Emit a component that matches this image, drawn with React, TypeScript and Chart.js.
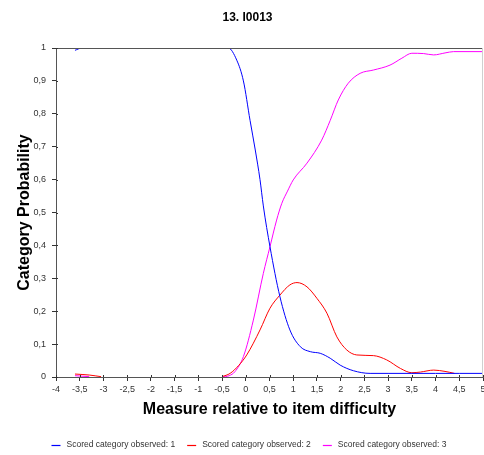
import React, { useEffect, useRef } from "react";
import { Chart, registerables } from "chart.js";

Chart.register(...registerables);

const chartTitle = "13. I0013";
const xTitle = "Measure relative to item difficulty";
const yTitle = "Category Probability";
const seriesNames = [
  "Scored category observed: 1",
  "Scored category observed: 2",
  "Scored category observed: 3",
];
const seriesColors = ["#0000ff", "#ff0000", "#ff00ff"];

const blueX = [-3.6, -3.45, -3.0, -0.5, -0.37, -0.19, -0.05, 0.09, 0.2, 0.3, 0.37, 0.51, 0.72, 0.93, 1.15, 1.36, 1.57, 1.78, 1.99, 2.27, 2.62, 3.0, 3.5, 4.0, 4.5, 5.0];
const blueY = [0.993, 1, 1, 1, 1, 0.963, 0.9, 0.78, 0.69, 0.6, 0.52, 0.396, 0.244, 0.143, 0.092, 0.077, 0.072, 0.057, 0.036, 0.019, 0.011, 0.011, 0.011, 0.011, 0.011, 0.011];

const redX = [-3.6, -3.3, -3.05, -0.5, -0.33, -0.15, 0.02, 0.3, 0.51, 0.72, 0.93, 1.08, 1.29, 1.5, 1.71, 1.92, 2.13, 2.34, 2.69, 2.97, 3.26, 3.5, 3.68, 3.96, 4.2, 4.4];
const redY = [0.009, 0.006, 0.001, 0.001, 0.011, 0.035, 0.067, 0.143, 0.209, 0.249, 0.28, 0.287, 0.274, 0.239, 0.194, 0.122, 0.082, 0.067, 0.065, 0.052, 0.026, 0.013, 0.015, 0.021, 0.017, 0.011];

const magentaX = [-3.6, -3.3, -0.5, -0.35, -0.23, -0.05, 0.16, 0.37, 0.51, 0.65, 0.76, 0.88, 1.0, 1.29, 1.6, 1.78, 1.95, 2.16, 2.41, 2.69, 3.04, 3.29, 3.5, 3.75, 3.96, 4.2, 4.38, 5.0];
const magentaY = [0.004, 0.001, 0.0, 0.004, 0.016, 0.062, 0.173, 0.315, 0.396, 0.477, 0.528, 0.565, 0.599, 0.65, 0.72, 0.78, 0.842, 0.893, 0.923, 0.933, 0.948, 0.969, 0.984, 0.983, 0.979, 0.985, 0.989, 0.989];

// gap between the two observed ranges (no curve drawn there)
const gapStart = -3.0;
const gapEnd = -0.5;

function toPoints(xs: number[], ys: number[]) {
  const pts: { x: number; y: number | null }[] = [];
  for (let i = 0; i < xs.length; i++) {
    pts.push({ x: xs[i], y: ys[i] });
    if (i + 1 < xs.length && xs[i] <= gapStart && xs[i + 1] >= gapEnd) {
      pts.push({ x: (xs[i] + xs[i + 1]) / 2, y: null });
    }
  }
  return pts;
}

const FONT = "'Liberation Sans', Arial, sans-serif";

const decorPlugin = {
  id: "decor",
  afterDatasetsDraw(chart: any) {
    const ctx = chart.ctx;
    const { left, right, top, bottom } = chart.chartArea;
    ctx.save();
    ctx.strokeStyle = "#555";
    ctx.lineWidth = 1;
    ctx.beginPath();
    ctx.moveTo(left, top + 0.5);
    ctx.lineTo(right, top + 0.5);
    ctx.stroke();
    ctx.strokeStyle = "#d0d0d0";
    ctx.beginPath();
    ctx.moveTo(right - 0.5, top);
    ctx.lineTo(right - 0.5, bottom);
    ctx.stroke();
    ctx.strokeStyle = "#333";
    const xs = chart.scales.x;
    const ys = chart.scales.y;
    ctx.beginPath();
    xs.ticks.forEach((t: any) => {
      const px = Math.round(xs.getPixelForValue(t.value)) + 0.5;
      ctx.moveTo(px, bottom);
      ctx.lineTo(px, bottom - 2);
    });
    ys.ticks.forEach((t: any) => {
      const py = Math.round(ys.getPixelForValue(t.value)) + 0.5;
      ctx.moveTo(left, py);
      ctx.lineTo(left + 2, py);
    });
    ctx.stroke();
    ctx.restore();
  },
  afterDraw(chart: any) {
    const ctx = chart.ctx;
    ctx.save();
    ctx.font = `8.5px ${FONT}`;
    ctx.textBaseline = "middle";
    const markerW = 9;
    const markerGap = 6;
    const itemGap = 12;
    const widths = seriesNames.map((n) => ctx.measureText(n).width);
    const total =
      widths.reduce((a, b) => a + b, 0) +
      seriesNames.length * (markerW + markerGap) +
      (seriesNames.length - 1) * itemGap;
    let x = 249 - total / 2;
    const y = 445;
    seriesNames.forEach((n, i) => {
      ctx.strokeStyle = seriesColors[i];
      ctx.lineWidth = 1.2;
      ctx.beginPath();
      ctx.moveTo(x, y + 0.5);
      ctx.lineTo(x + markerW, y + 0.5);
      ctx.stroke();
      x += markerW + markerGap;
      ctx.fillStyle = "#333";
      ctx.fillText(n, x, y);
      x += widths[i] + itemGap;
    });
    ctx.restore();
  },
};

function fmt(v: number) {
  if (Math.abs(v) < 1e-9) return "0";
  const r = Math.round(v * 10) / 10;
  return String(r).replace(".", ",");
}

export default function App() {
  const ref = useRef<HTMLCanvasElement | null>(null);
  useEffect(() => {
    if (!ref.current) return;
    Chart.defaults.font.family = FONT;
    const chart = new Chart(ref.current, {
      type: "line",
      data: {
        datasets: [
          { label: seriesNames[0], data: toPoints(blueX, blueY), borderColor: seriesColors[0] },
          { label: seriesNames[1], data: toPoints(redX, redY), borderColor: seriesColors[1] },
          { label: seriesNames[2], data: toPoints(magentaX, magentaY), borderColor: seriesColors[2] },
        ].map((d) => ({
          ...d,
          borderWidth: 1,
          pointRadius: 0,
          fill: false,
          spanGaps: false,
          cubicInterpolationMode: "monotone" as const,
        })),
      },
      options: {
        responsive: false,
        animation: false,
        layout: { padding: { left: 12, right: 1, top: 0, bottom: 0 } },
        plugins: {
          legend: { display: false },
          tooltip: { enabled: false },
          title: {
            display: true,
            text: chartTitle,
            color: "#000",
            font: { size: 12, weight: "bold", family: FONT },
            padding: { top: 10, bottom: 23.6 },
          },
        },
        scales: {
          x: {
            type: "linear",
            min: -4,
            max: 5,
            afterFit(scale: any) {
              scale.height = 78;
              scale.paddingLeft = 0;
              scale.paddingRight = 0;
            },
            ticks: {
              stepSize: 0.5,
              autoSkip: false,
              maxRotation: 0,
              padding: 3,
              color: "#333",
              font: { size: 9, family: FONT },
              callback: (v: any) => fmt(Number(v)),
            },
            grid: { drawOnChartArea: false, drawTicks: true, tickLength: 4, color: "#333" },
            border: { color: "#555", width: 1 },
            title: {
              display: true,
              text: xTitle,
              color: "#000",
              font: { size: 16, weight: "bold", family: FONT },
              padding: { top: 0, bottom: 35.4 },
            },
          },
          y: {
            type: "linear",
            min: 0,
            max: 1,
            afterFit(scale: any) {
              scale.width = 44;
              scale.paddingTop = 0;
              scale.paddingBottom = 0;
            },
            ticks: {
              stepSize: 0.1,
              padding: 6,
              color: "#333",
              font: { size: 9, family: FONT },
              callback: (v: any) => fmt(Number(v)),
            },
            grid: { drawOnChartArea: false, drawTicks: true, tickLength: 4, color: "#333" },
            border: { color: "#555", width: 1 },
            title: {
              display: true,
              text: yTitle,
              color: "#000",
              font: { size: 16, weight: "bold", family: FONT },
              padding: { top: 3.4, bottom: 0 },
            },
          },
        },
      },
      plugins: [decorPlugin],
    } as any);
    return () => chart.destroy();
  }, []);
  return (
    <div style={{ position: "absolute", left: 0, top: 0, width: 484, height: 455 }}>
      <canvas ref={ref} width={484} height={455} />
    </div>
  );
}
